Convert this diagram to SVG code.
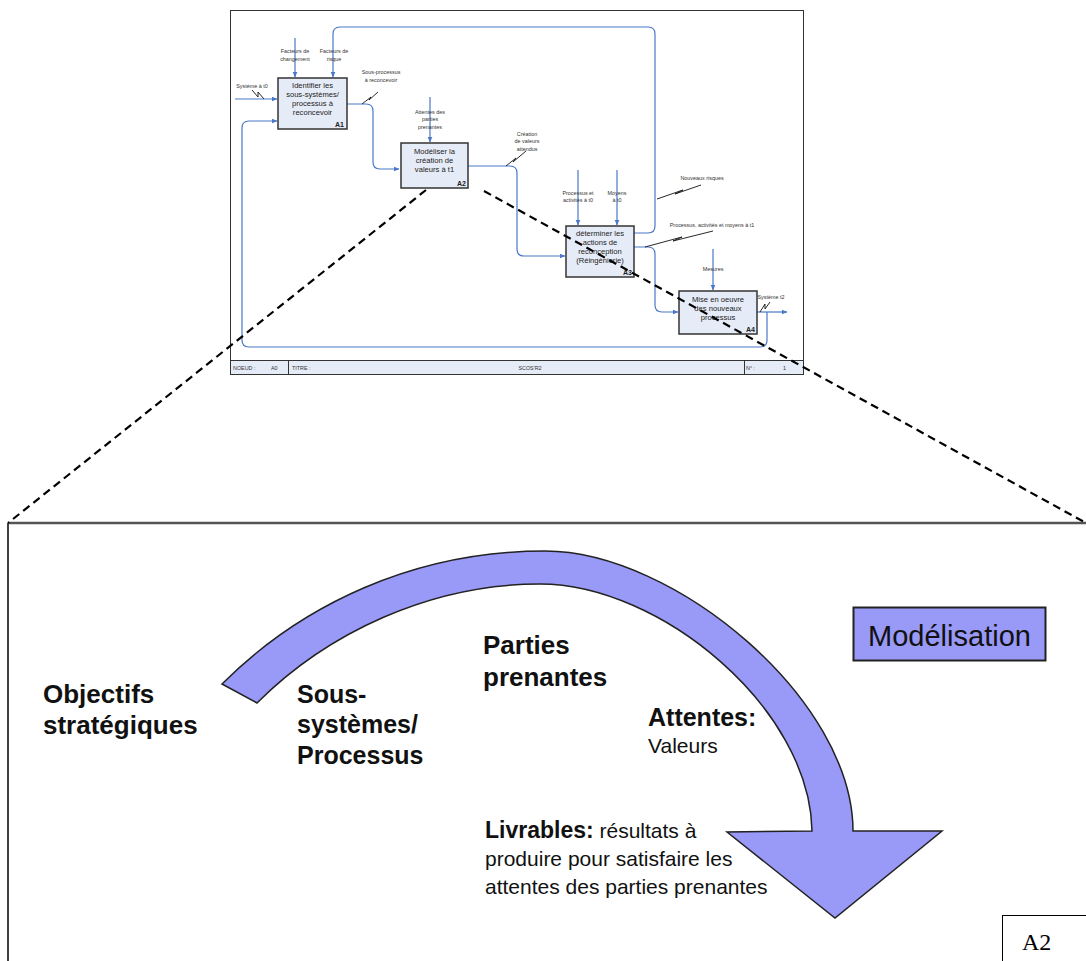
<svg xmlns="http://www.w3.org/2000/svg" width="1086" height="961" viewBox="0 0 1086 961">
<style>
.frame{fill:#fff;stroke:#333;stroke-width:1}
.foot{fill:#e6ecf7;stroke:#333;stroke-width:1}
.box{fill:#e6ecf7;stroke:#333;stroke-width:1.5}
.bt{font-family:"Liberation Sans",Arial,sans-serif;font-size:7.6px;fill:#222;text-anchor:middle}
.bl{font-family:"Liberation Sans",Arial,sans-serif;font-size:7px;font-weight:bold;fill:#222;text-anchor:end}
.lb{font-family:"Liberation Sans",Arial,sans-serif;font-size:5.4px;fill:#333;text-anchor:middle}
.ft{font-family:"Liberation Sans",Arial,sans-serif;font-size:5.4px;fill:#333}
.con{fill:none;stroke:#4a78c8;stroke-width:1.2}
.arr{marker-end:url(#ah)}
.sq{fill:none;stroke:#111;stroke-width:0.9}
.dash{fill:none;stroke:#000;stroke-width:2.2;stroke-dasharray:8 5}
.big{font-family:"Liberation Sans",Arial,sans-serif;font-weight:bold;fill:#111}
.reg{font-family:"Liberation Sans",Arial,sans-serif;fill:#111}
</style>
<defs>
<marker id="ah" markerUnits="userSpaceOnUse" markerWidth="6" markerHeight="6" refX="5.5" refY="3" orient="auto">
<path d="M0,0.5 L6,3 L0,5.5 z" fill="#4a78c8"/>
</marker>
</defs>

<g id="frame">
<rect class="frame" x="230.5" y="10.5" width="573" height="364"/>
<rect class="foot" x="230.5" y="360.5" width="573" height="14"/>
<line x1="288.5" y1="360.5" x2="288.5" y2="374.5" stroke="#333"/>
<line x1="744.5" y1="360.5" x2="744.5" y2="374.5" stroke="#333"/>
<text class="ft" x="233" y="369.5">NOEUD :</text>
<text class="ft" x="271" y="369.5">A0</text>
<text class="ft" x="292" y="369.5">TITRE :</text>
<text class="ft" x="530" y="369.5" text-anchor="middle">SCOS'R2</text>
<text class="ft" x="746" y="369.5">N° :</text>
<text class="ft" x="783" y="369.5">1</text>
</g>

<g id="connectors">
<path class="con arr" d="M235,99 H277"/>
<path class="con arr" d="M295,38 V77"/>
<path class="con arr" d="M634,233 H648 Q655,233 655,226 V34 Q655,27 648,27 H340 Q333,27 333,34 V77"/>
<path class="con arr" d="M347,104 H366 Q373,104 373,111 V162 Q373,169 380,169 H399"/>
<path class="con arr" d="M430,97 V142"/>
<path class="con arr" d="M468,166 H510 Q517,166 517,173 V249 Q517,256 524,256 H565"/>
<path class="con arr" d="M578,170 V225"/>
<path class="con arr" d="M617,170 V225"/>
<path class="con arr" d="M634,247 H648 Q655,247 655,254 V305 Q655,312 662,312 H678"/>
<path class="con arr" d="M713,249 V290"/>
<path class="con arr" d="M757,312 H787"/>
<path class="con arr" d="M767,312 V340 Q767,347 760,347 H249 Q242,347 242,340 V128 Q242,121 249,121 H277"/>
<polyline class="sq" points="252,90 258,97 258,92 264,99"/>
<polyline class="sq" points="362,104 371,97 369,100 378,92"/>
<polyline class="sq" points="506,166 516,158 513,162 526,151"/>
<polyline class="sq" points="657,199 683,190 675,194 701,185"/>
<polyline class="sq" points="645,247 682,237 673,241 713,231"/>
<polyline class="sq" points="760,312 765,304 765,309 770,302"/>
</g>

<g id="A1">
<rect class="box" x="278" y="78" width="69" height="51"/>
<text class="bt" x="312.5" y="88">Identifier les</text>
<text class="bt" x="312.5" y="97">sous-systèmes/</text>
<text class="bt" x="312.5" y="106">processus à</text>
<text class="bt" x="312.5" y="115">reconcevoir</text>
<text class="bl" x="344" y="127">A1</text>
</g>
<g id="A2">
<rect class="box" x="401" y="143" width="67" height="45"/>
<text class="bt" x="434.5" y="154">Modéliser la</text>
<text class="bt" x="434.5" y="163">création de</text>
<text class="bt" x="434.5" y="172">valeurs à t1</text>
<text class="bl" x="466" y="186">A2</text>
</g>
<g id="A3">
<rect class="box" x="566" y="226" width="68" height="51"/>
<text class="bt" x="600" y="236">déterminer les</text>
<text class="bt" x="600" y="245">actions de</text>
<text class="bt" x="600" y="254">reconception</text>
<text class="bt" x="600" y="263">(Réingénierie)</text>
<text class="bl" x="632" y="275">A3</text>
</g>
<g id="A4">
<rect class="box" x="679" y="291" width="78" height="43"/>
<text class="bt" x="718" y="302">Mise en oeuvre</text>
<text class="bt" x="718" y="311">des nouveaux</text>
<text class="bt" x="718" y="320">processus</text>
<text class="bl" x="755" y="332">A4</text>
</g>

<g id="labels">
<text class="lb" x="295" y="53">Facteurs de</text>
<text class="lb" x="295" y="61">changement</text>
<text class="lb" x="334" y="53">Facteurs de</text>
<text class="lb" x="334" y="61">risque</text>
<text class="lb" x="252" y="88">Système à t0</text>
<text class="lb" x="381" y="74">Sous-processus</text>
<text class="lb" x="381" y="82">à reconcevoir</text>
<text class="lb" x="430" y="114">Attentes des</text>
<text class="lb" x="430" y="121">parties</text>
<text class="lb" x="430" y="129">prenantes</text>
<text class="lb" x="527" y="136">Création</text>
<text class="lb" x="527" y="143">de valeurs</text>
<text class="lb" x="527" y="151">attendus</text>
<text class="lb" x="578" y="195">Processus et</text>
<text class="lb" x="578" y="202">activités à t0</text>
<text class="lb" x="617" y="195">Moyens</text>
<text class="lb" x="617" y="202">à t0</text>
<text class="lb" x="702" y="180">Nouveaux risques</text>
<text class="lb" x="712" y="227">Processus, activités et moyens à t1</text>
<text class="lb" x="713" y="271">Mesures</text>
<text class="lb" x="771" y="299">Système t2</text>
</g>

<g id="zoom-panel">
<path d="M8,961 V523" fill="none" stroke="#000" stroke-width="1.5"/>
<path d="M8,523 H1086" fill="none" stroke="#555" stroke-width="2.5"/>
</g>

<g id="arc-arrow">
<path d="M222,684 C302,604 415,551 545,551 C675,551 853,700 853,831 L942,831 L835,918 L727,832 L812,831 C810,708 660,584 540,584 C430,584 327,633 257,703 Z" fill="#9999f8" stroke="#222" stroke-width="1.5" stroke-linejoin="miter"/>
</g>

<g id="modelisation">
<rect x="853.5" y="607.5" width="192" height="53" fill="#9999f8" stroke="#222" stroke-width="2"/>
<text class="reg" x="949.5" y="646" font-size="29" text-anchor="middle">Modélisation</text>
</g>

<g id="texts">
<text class="big" font-size="26"><tspan x="43" y="703">Objectifs</tspan><tspan x="43" y="734">stratégiques</tspan></text>
<text class="big" font-size="25"><tspan x="297" y="703">Sous-</tspan><tspan x="297" y="733">systèmes/</tspan><tspan x="297" y="764">Processus</tspan></text>
<text class="big" font-size="26"><tspan x="483" y="654">Parties</tspan><tspan x="483" y="686">prenantes</tspan></text>
<text class="big" font-size="25" x="648" y="726">Attentes:</text>
<text class="reg" font-size="21" x="648" y="753">Valeurs</text>
<text x="485" y="838"><tspan class="big" font-size="23">Livrables:</tspan><tspan class="reg" font-size="21"> résultats à</tspan></text>
<text class="reg" font-size="21" x="485" y="866">produire pour satisfaire les</text>
<text class="reg" font-size="21" x="485" y="894">attentes des parties prenantes</text>
</g>

<g id="A2-tag">
<rect x="1002.5" y="915.5" width="90" height="50" fill="#fff" stroke="#000" stroke-width="1"/>
<text x="1022" y="950" font-family="'Liberation Serif','Times New Roman',serif" font-size="24" fill="#000">A2</text>
</g>

<g id="zoom-lines">
<path class="dash" d="M426,190 L8,523"/>
<path class="dash" d="M484,191 L1086,523"/>
</g>
</svg>
